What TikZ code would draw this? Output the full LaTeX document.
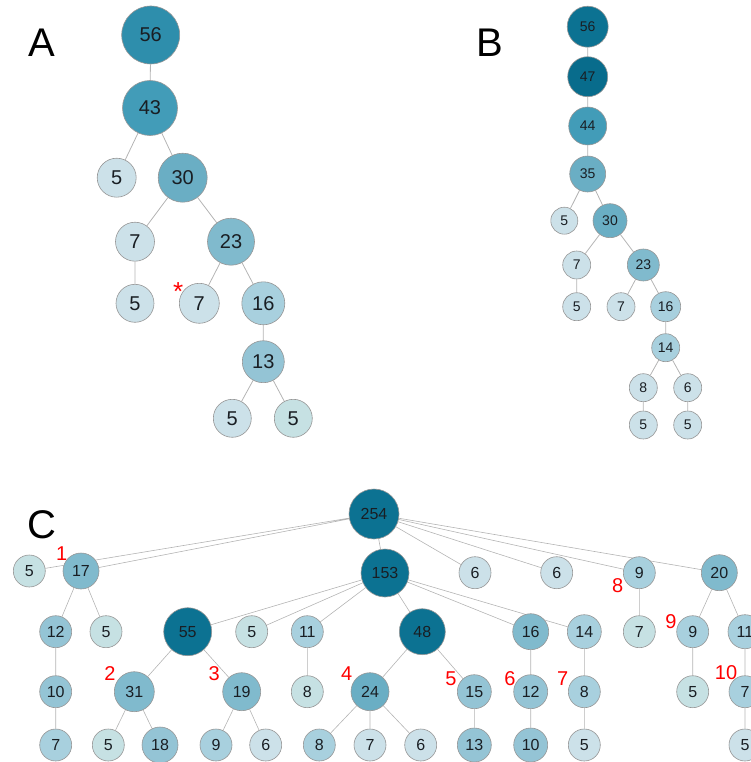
\documentclass[tikz,border=0pt]{standalone}
\usepackage{fontspec}
\setmainfont{Liberation Sans}
\usetikzlibrary{backgrounds}
\definecolor{bord}{RGB}{150,150,150}
\definecolor{edg}{RGB}{180,180,180}
\definecolor{txt}{RGB}{25,30,35}
\definecolor{p1}{RGB}{12,114,146}
\definecolor{p1b}{RGB}{8,108,140}
\definecolor{p2}{RGB}{46,142,172}
\definecolor{p3}{RGB}{66,156,184}
\definecolor{p4}{RGB}{106,174,196}
\definecolor{p5}{RGB}{128,186,205}
\definecolor{p6}{RGB}{148,196,213}
\definecolor{p7}{RGB}{168,208,222}
\definecolor{p8}{RGB}{204,225,233}
\definecolor{p9}{RGB}{198,225,227}
\tikzset{
 nd/.style={circle,draw=bord,line width=0.6pt,inner sep=0pt,text=txt},
 an/.style={nd,font=\fontsize{20}{20}\selectfont},
 bn/.style={nd,font=\fontsize{14}{14}\selectfont},
 cn/.style={nd,font=\fontsize{16}{16}\selectfont},
 dia/.style={minimum size=#1},
 ed/.style={draw=edg,line width=0.8pt},
 lab/.style={font=\fontsize{40}{40}\selectfont,text=black},
 rl/.style={text=red,font=\fontsize{20}{20}\selectfont}
}
\begin{document}
\begin{tikzpicture}[x=1pt,y=-1pt]
\useasboundingbox (0,0) rectangle (750,762);
% ---------- Panel A ----------
\node[lab] (LA) at (42,43) {A};
\node[an,dia=58pt,fill=p2] (A56) at (150.7,35) {56};
\node[an,dia=55pt,fill=p3] (A43) at (150,108) {43};
\node[an,dia=39pt,fill=p8] (A5a) at (116.7,177.7) {5};
\node[an,dia=49pt,fill=p4] (A30) at (182.7,177.7) {30};
\node[an,dia=39pt,fill=p8] (A7a) at (135,241.7) {7};
\node[an,dia=47pt,fill=p5] (A23) at (231,241.7) {23};
\node[an,dia=38pt,fill=p8] (A5b) at (135,303.3) {5};
\node[an,dia=40pt,fill=p8] (A7b) at (199.3,303.3) {7};
\node[an,dia=43pt,fill=p7] (A16) at (263.3,303.3) {16};
\node[an,dia=42pt,fill=p6] (A13) at (263.3,361.7) {13};
\node[an,dia=38pt,fill=p8] (A5c) at (232.3,418.3) {5};
\node[an,dia=38pt,fill=p9] (A5d) at (293.3,418.3) {5};
\node[text=red,font=\fontsize{26}{26}\selectfont,inner sep=0pt] (ast) at (178.3,292) {*};
% ---------- Panel B ----------
\node[lab] (LB) at (490,43) {B};
\node[bn,dia=41pt,fill=p1] (B56) at (587.7,26.7) {56};
\node[bn,dia=40pt,fill=p1b] (B47) at (587.7,76.7) {47};
\node[bn,dia=38pt,fill=p3] (B44) at (587.7,126) {44};
\node[bn,dia=36pt,fill=p4] (B35) at (587.7,174) {35};
\node[bn,dia=27pt,fill=p8] (B5a) at (564.3,220.7) {5};
\node[bn,dia=34pt,fill=p4] (B30) at (610,220.7) {30};
\node[bn,dia=28pt,fill=p8] (B7a) at (576.7,265) {7};
\node[bn,dia=32pt,fill=p5] (B23) at (643.3,265) {23};
\node[bn,dia=28pt,fill=p8] (B5b) at (576.7,306.7) {5};
\node[bn,dia=28pt,fill=p8] (B7b) at (621,306.7) {7};
\node[bn,dia=30pt,fill=p7] (B16) at (665.7,306.7) {16};
\node[bn,dia=28pt,fill=p7] (B14) at (665.7,347.7) {14};
\node[bn,dia=28pt,fill=p8] (B8) at (643.3,387.7) {8};
\node[bn,dia=28pt,fill=p8] (B6) at (687.7,387.7) {6};
\node[bn,dia=28pt,fill=p8] (B5c) at (643.3,425) {5};
\node[bn,dia=28pt,fill=p8] (B5d) at (687.7,425) {5};
% ---------- Panel C ----------
\node[lab] (LC) at (42,525) {C};
\node[cn,dia=50pt,fill=p1] (C254) at (374,514) {254};
\node[cn,dia=48pt,fill=p1] (C153) at (385,573) {153};
% row 1
\node[cn,dia=32pt,fill=p9] (C5a) at (29.3,571) {5};
\node[cn,dia=36pt,fill=p5] (C17) at (81,571) {17};
\node[cn,dia=32pt,fill=p8] (C6a) at (475,572.7) {6};
\node[cn,dia=32pt,fill=p8] (C6b) at (556.7,572.7) {6};
\node[cn,dia=32pt,fill=p7] (C9a) at (639.3,572.7) {9};
\node[cn,dia=36pt,fill=p5] (C20) at (719.3,572.7) {20};
% row 2
\node[cn,dia=32pt,fill=p6] (C12) at (55.7,631.7) {12};
\node[cn,dia=32pt,fill=p9] (C5b) at (106,631.7) {5};
\node[cn,dia=48pt,fill=p1] (C55) at (187.7,631.7) {55};
\node[cn,dia=32pt,fill=p9] (C5c) at (251.7,631.7) {5};
\node[cn,dia=32pt,fill=p7] (C11) at (307.3,631.7) {11};
\node[cn,dia=46pt,fill=p1] (C48) at (422.3,631.7) {48};
\node[cn,dia=36pt,fill=p5] (C16) at (530.7,631.7) {16};
\node[cn,dia=34pt,fill=p7] (C14) at (584.3,631.7) {14};
\node[cn,dia=32pt,fill=p9] (C7a) at (639.3,631.7) {7};
\node[cn,dia=32pt,fill=p7] (C9b) at (692.7,631.7) {9};
\node[cn,dia=34pt,fill=p7] (C11b) at (745,631.7) {11};
% row 3
\node[cn,dia=32pt,fill=p6] (C10) at (55.7,691.7) {10};
\node[cn,dia=40pt,fill=p5] (C31) at (134.3,691.7) {31};
\node[cn,dia=38pt,fill=p5] (C19) at (241.7,691.7) {19};
\node[cn,dia=32pt,fill=p9] (C8a) at (307.3,691.7) {8};
\node[cn,dia=38pt,fill=p4] (C24) at (370,691.7) {24};
\node[cn,dia=34pt,fill=p6] (C15) at (474.3,691.7) {15};
\node[cn,dia=34pt,fill=p6] (C12b) at (530.7,691.7) {12};
\node[cn,dia=32pt,fill=p7] (C8b) at (584.3,691.7) {8};
\node[cn,dia=32pt,fill=p9] (C5d) at (692.7,691.7) {5};
\node[cn,dia=32pt,fill=p7] (C7b) at (745,691.7) {7};
% row 4
\node[cn,dia=32pt,fill=p7] (C7c) at (55.7,745) {7};
\node[cn,dia=32pt,fill=p9] (C5e) at (108.3,745) {5};
\node[cn,dia=36pt,fill=p6] (C18) at (160,745) {18};
\node[cn,dia=32pt,fill=p7] (C9c) at (216,745) {9};
\node[cn,dia=32pt,fill=p8] (C6c) at (265.7,745) {6};
\node[cn,dia=32pt,fill=p7] (C8c) at (319.3,745) {8};
\node[cn,dia=32pt,fill=p8] (C7d) at (370,745) {7};
\node[cn,dia=32pt,fill=p8] (C6d) at (420.7,745) {6};
\node[cn,dia=34pt,fill=p6] (C13) at (474.3,745) {13};
\node[cn,dia=34pt,fill=p6] (C10b) at (530.7,745) {10};
\node[cn,dia=32pt,fill=p8] (C5f) at (584.3,745) {5};
\node[cn,dia=32pt,fill=p8] (C5g) at (745,745) {5};
% red labels
\node[rl] (r1) at (61.7,554) {1};
\node[rl] (r2) at (110,673.3) {2};
\node[rl] (r3) at (214.3,673.3) {3};
\node[rl] (r4) at (346.7,673.3) {4};
\node[rl] (r5) at (451,679) {5};
\node[rl] (r6) at (510,679) {6};
\node[rl] (r7) at (562.7,679) {7};
\node[rl] (r8) at (617.7,586) {8};
\node[rl] (r9) at (671,621.7) {9};
\node[rl] (r10) at (726,672.3) {10};
% ---------- edges ----------
\begin{pgfonlayer}{background}
\draw[ed] (A56)--(A43) (A43)--(A5a) (A43)--(A30) (A30)--(A7a) (A30)--(A23)
 (A7a)--(A5b) (A23)--(A7b) (A23)--(A16) (A16)--(A13) (A13)--(A5c) (A13)--(A5d);
\draw[ed] (B56)--(B47) (B47)--(B44) (B44)--(B35) (B35)--(B5a) (B35)--(B30)
 (B30)--(B7a) (B30)--(B23) (B7a)--(B5b) (B23)--(B7b) (B23)--(B16) (B16)--(B14)
 (B14)--(B8) (B14)--(B6) (B8)--(B5c) (B6)--(B5d);
\draw[ed,line width=0.6pt] (C254)--(C5a) (C254)--(C17) (C254)--(C153) (C254)--(C6a) (C254)--(C6b)
 (C254)--(C9a) (C254)--(C20)
 (C153)--(C55) (C153)--(C5c) (C153)--(C11) (C153)--(C48) (C153)--(C16) (C153)--(C14)
 (C17)--(C12) (C17)--(C5b) (C12)--(C10) (C10)--(C7c)
 (C55)--(C31) (C55)--(C19) (C31)--(C5e) (C31)--(C18) (C19)--(C9c) (C19)--(C6c)
 (C11)--(C8a) (C48)--(C24) (C48)--(C15) (C24)--(C8c) (C24)--(C7d) (C24)--(C6d)
 (C15)--(C13) (C16)--(C12b) (C12b)--(C10b) (C14)--(C8b) (C8b)--(C5f)
 (C9a)--(C7a) (C20)--(C9b) (C20)--(C11b) (C9b)--(C5d) (C11b)--(C7b) (C7b)--(C5g);
\end{pgfonlayer}
\end{tikzpicture}
\end{document}
